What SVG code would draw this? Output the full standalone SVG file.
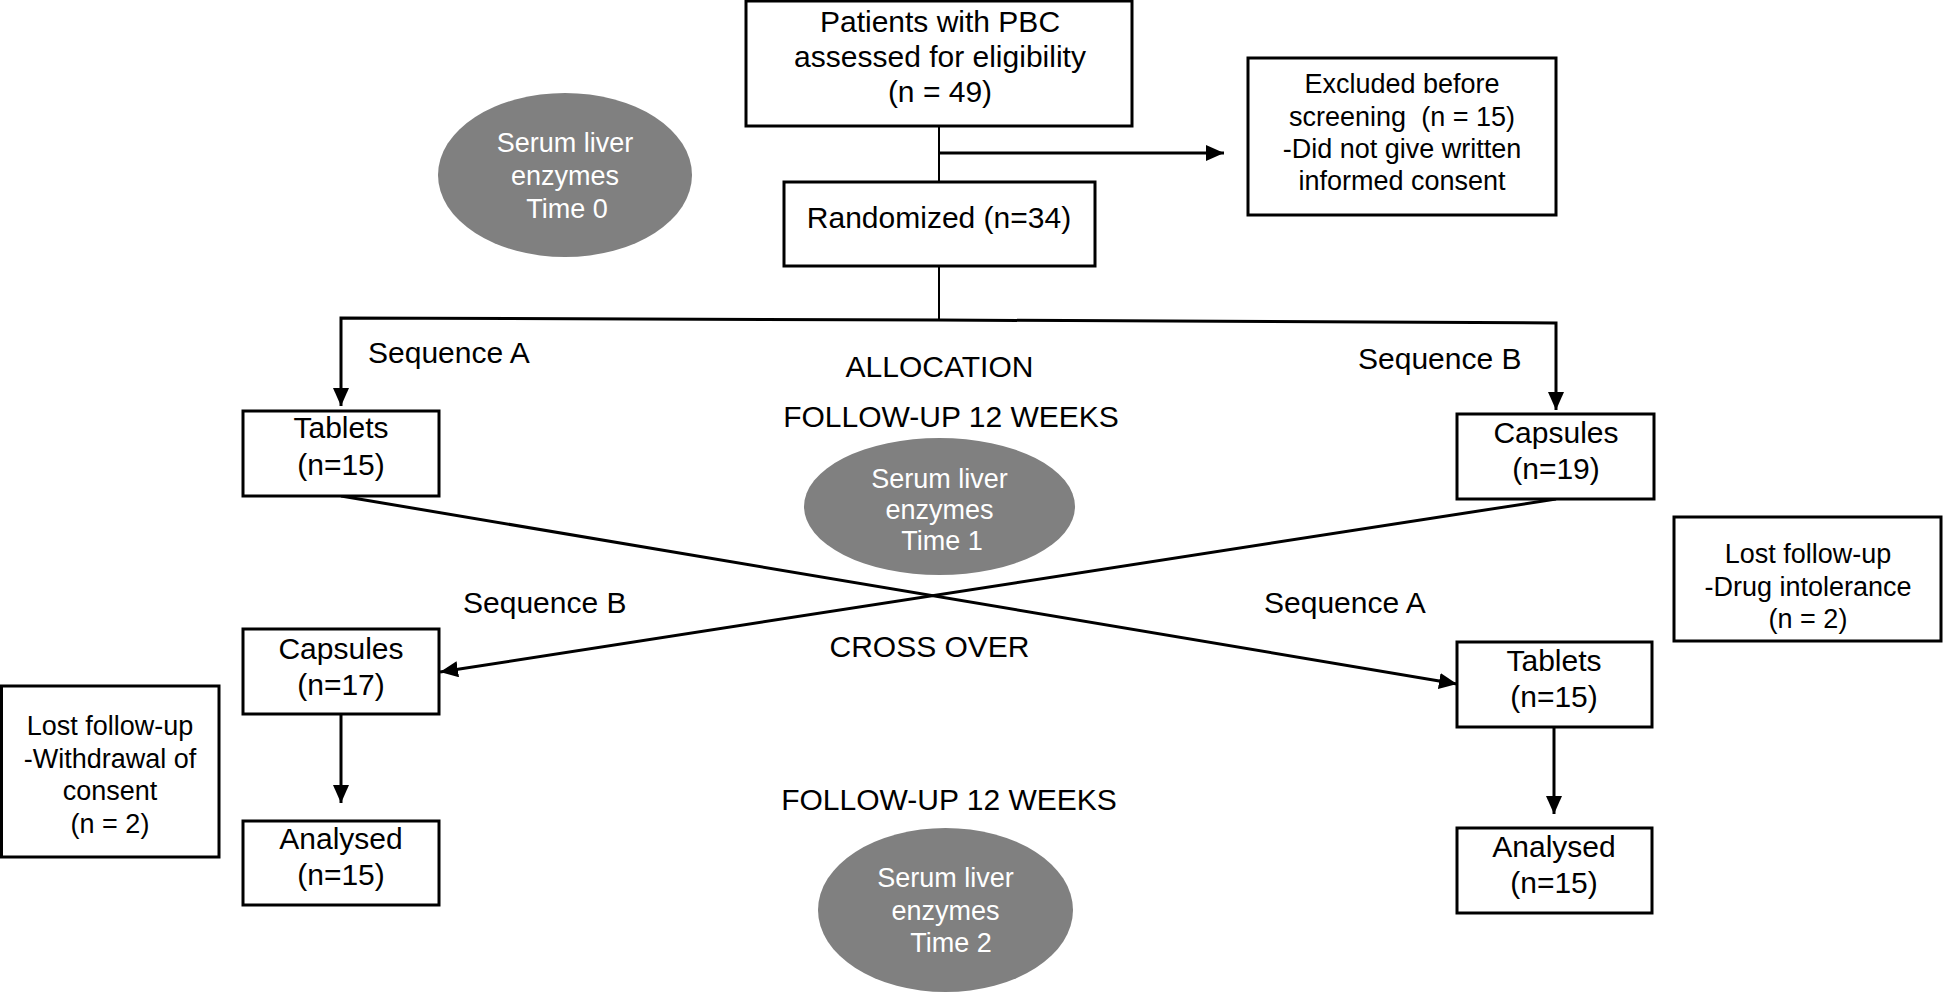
<svg xmlns="http://www.w3.org/2000/svg" width="1948" height="992" viewBox="0 0 1948 992">
<style>
  .box { fill: #ffffff; stroke: #000000; stroke-width: 3; }
  .ell { fill: #808080; stroke: none; }
  .t { font-family: "Liberation Sans", Arial, sans-serif; font-size: 30px; fill: #000000; text-anchor: middle; white-space: pre; }
  .s { font-family: "Liberation Sans", Arial, sans-serif; font-size: 27px; fill: #000000; text-anchor: middle; white-space: pre; }
  .w { font-family: "Liberation Sans", Arial, sans-serif; font-size: 27px; fill: #ffffff; text-anchor: middle; }
  .lbl { font-family: "Liberation Sans", Arial, sans-serif; font-size: 30px; fill: #000000; }
  .c { fill: none; stroke: #000000; stroke-width: 3; }
  .thin { fill: none; stroke: #000000; stroke-width: 2; }
</style>
<defs>
  <marker id="arr" markerUnits="userSpaceOnUse" markerWidth="18" markerHeight="16" refX="18" refY="8" orient="auto">
    <path d="M0,0 L18,8 L0,16 Z" fill="#000000"/>
  </marker>
</defs>
<rect width="1948" height="992" fill="#ffffff"/>

<g id="connectors">
  <path class="thin" d="M939,126 L939,182"/>
  <path class="c" d="M939,153 L1224,153" marker-end="url(#arr)"/>
  <path class="thin" d="M939,266 L939,320"/>
  <path class="c" d="M939,320 L341,318 L341,406" marker-end="url(#arr)"/>
  <path class="c" d="M939,320 L1556,323 L1556,410" marker-end="url(#arr)"/>
  <path class="c" d="M341,496 L1457,684" marker-end="url(#arr)"/>
  <path class="c" d="M1556,499 L440,672" marker-end="url(#arr)"/>
  <path class="c" d="M341,714 L341,803" marker-end="url(#arr)"/>
  <path class="c" d="M1554,727 L1554,814" marker-end="url(#arr)"/>
</g>

<g id="assessed">
  <rect class="box" x="746" y="1" width="386" height="125"/>
  <text class="t" x="940" y="32">Patients with PBC</text>
  <text class="t" x="940" y="67">assessed for eligibility</text>
  <text class="t" x="940" y="102">(n = 49)</text>
</g>

<g id="excluded">
  <rect class="box" x="1248" y="58" width="308" height="157"/>
  <text class="s" x="1402" y="93">Excluded before</text>
  <text class="s" x="1402" y="126">screening  (n = 15)</text>
  <text class="s" x="1402" y="158">-Did not give written</text>
  <text class="s" x="1402" y="190">informed consent</text>
</g>

<g id="time0">
  <ellipse class="ell" cx="565" cy="175" rx="127" ry="82"/>
  <text class="w" x="565" y="152">Serum liver</text>
  <text class="w" x="565" y="185">enzymes</text>
  <text class="w" x="567" y="218">Time 0</text>
</g>

<g id="randomized">
  <rect class="box" x="784" y="182" width="311" height="84"/>
  <text class="t" x="939" y="228">Randomized (n=34)</text>
</g>

<g id="labels">
  <text class="lbl" x="368" y="363">Sequence A</text>
  <text class="lbl" x="1358" y="369">Sequence B</text>
  <text class="lbl" x="939.5" y="377" text-anchor="middle">ALLOCATION</text>
  <text class="lbl" x="951" y="427" text-anchor="middle">FOLLOW-UP 12 WEEKS</text>
  <text class="lbl" x="463" y="613">Sequence B</text>
  <text class="lbl" x="1264" y="613">Sequence A</text>
  <text class="lbl" x="929.5" y="657" text-anchor="middle">CROSS OVER</text>
  <text class="lbl" x="949" y="810" text-anchor="middle">FOLLOW-UP 12 WEEKS</text>
</g>

<g id="tablets1">
  <rect class="box" x="243" y="411" width="196" height="85"/>
  <text class="t" x="341" y="438">Tablets</text>
  <text class="t" x="341" y="475">(n=15)</text>
</g>

<g id="capsules1">
  <rect class="box" x="1457" y="414" width="197" height="85"/>
  <text class="t" x="1556" y="443">Capsules</text>
  <text class="t" x="1556" y="479">(n=19)</text>
</g>

<g id="time1">
  <ellipse class="ell" cx="939.5" cy="506.5" rx="135.5" ry="68.5"/>
  <text class="w" x="939.5" y="488">Serum liver</text>
  <text class="w" x="939.5" y="519">enzymes</text>
  <text class="w" x="942" y="550">Time 1</text>
</g>

<g id="lost-right">
  <rect class="box" x="1674" y="517" width="267" height="124"/>
  <text class="s" x="1808" y="563">Lost follow-up</text>
  <text class="s" x="1808" y="596">-Drug intolerance</text>
  <text class="s" x="1808" y="628">(n = 2)</text>
</g>

<g id="capsules2">
  <rect class="box" x="243" y="629" width="196" height="85"/>
  <text class="t" x="341" y="659">Capsules</text>
  <text class="t" x="341" y="695">(n=17)</text>
</g>

<g id="tablets2">
  <rect class="box" x="1457" y="642" width="195" height="85"/>
  <text class="t" x="1554" y="671">Tablets</text>
  <text class="t" x="1554" y="707">(n=15)</text>
</g>

<g id="lost-left">
  <rect class="box" x="1.5" y="686" width="217.5" height="171"/>
  <text class="s" x="110" y="735">Lost follow-up</text>
  <text class="s" x="110" y="768">-Withdrawal of</text>
  <text class="s" x="110" y="800">consent</text>
  <text class="s" x="110" y="833">(n = 2)</text>
</g>

<g id="analysed-left">
  <rect class="box" x="243" y="821" width="196" height="84"/>
  <text class="t" x="341" y="849">Analysed</text>
  <text class="t" x="341" y="885">(n=15)</text>
</g>

<g id="analysed-right">
  <rect class="box" x="1457" y="828" width="195" height="85"/>
  <text class="t" x="1554" y="857">Analysed</text>
  <text class="t" x="1554" y="893">(n=15)</text>
</g>

<g id="time2">
  <ellipse class="ell" cx="945.5" cy="910" rx="127.5" ry="82"/>
  <text class="w" x="945.5" y="887">Serum liver</text>
  <text class="w" x="945.5" y="920">enzymes</text>
  <text class="w" x="951" y="952">Time 2</text>
</g>
</svg>
